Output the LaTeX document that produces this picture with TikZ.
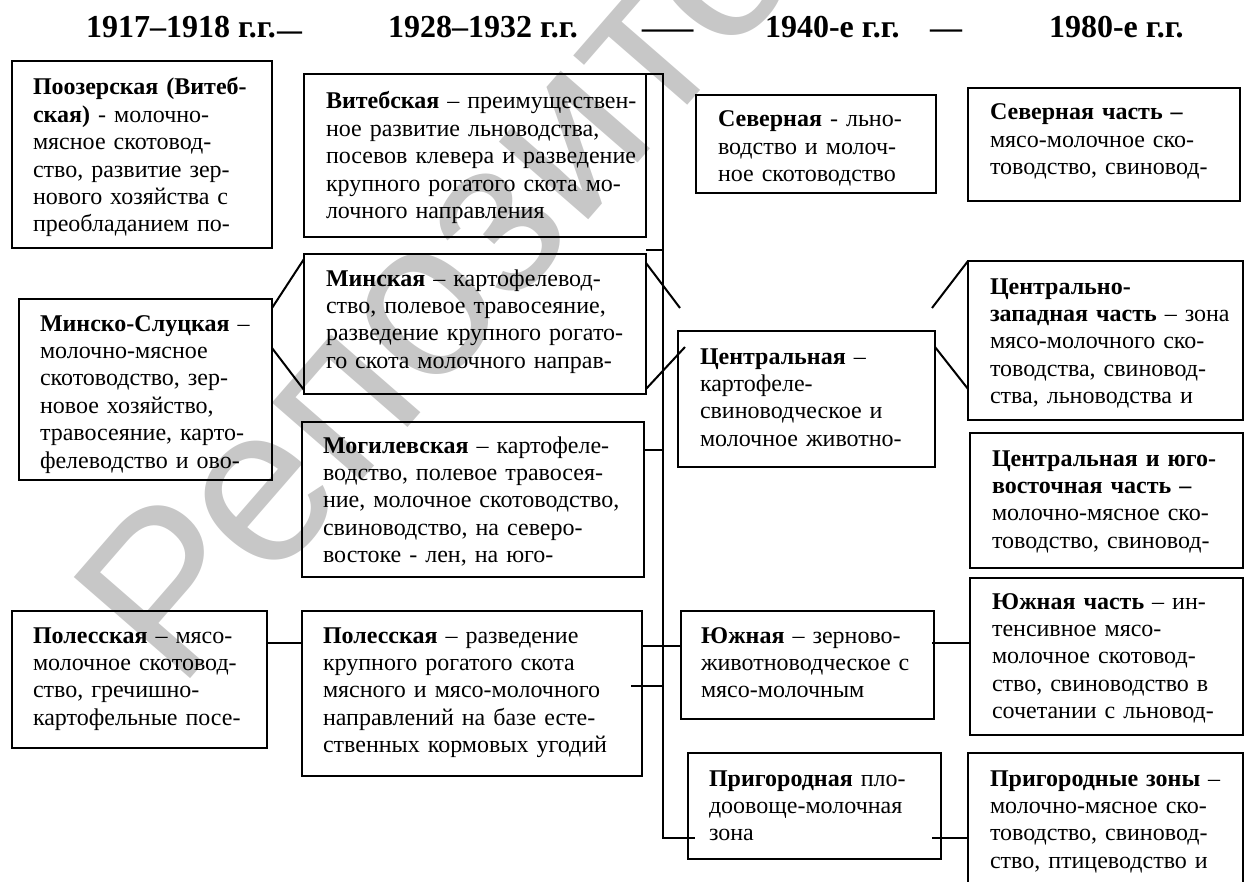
\documentclass[tikz,border=0pt]{standalone}
\usepackage{fontspec}
\setmainfont{Liberation Serif}
\newfontfamily\wmfont{Liberation Sans}
\usepackage{graphicx}
\usetikzlibrary{calc}
\newcommand\zbox[5]{\node[zone, minimum width={(#4-#2)*0.5pt}, minimum height={(#5-#3)*0.5pt}] (#1) at ({(#2+#4)/2},{(#3+#5)/2}) {};}
\begin{document}
\begin{tikzpicture}[x=0.5pt,y=-0.5pt, line width=1pt,
  zone/.style={draw, rectangle, inner sep=0pt, outer sep=0pt},
  txt/.style={anchor=base west, inner sep=0pt, outer sep=0pt, align=left, text width=190pt, font=\fontsize{12}{13.7}\selectfont},
  ttl/.style={anchor=base west, inner sep=0pt, outer sep=0pt, font=\fontsize{16}{18}\selectfont\bfseries},
  wmark/.style={anchor=base west, inner sep=0pt, outer sep=0pt, text=black!22, rotate=49, font=\fontsize{112}{120}\selectfont\wmfont}]
\useasboundingbox (0,0) rectangle (1246,882);

% watermark
\node[wmark] (wm) at (178,692) {Репозиторий};

% titles
\node[ttl] (t1) at (86,38) {1917–1918 г.г.};
\node[ttl] (t1d) at (277,41) {\scalebox{0.78}[1]{—}};
\node[ttl] (t2) at (388,38) {1928–1932 г.г.};
\node[ttl] (t2d) at (642,39) {\scalebox{1.6}[1]{—}};
\node[ttl] (t3) at (765,38) {1940-е г.г.};
\node[ttl] (t3d) at (930,39) {—};
\node[ttl] (t4) at (1049,38) {1980-е г.г.};

% boxes
\zbox{p1}{12}{61}{272}{248}
\zbox{ms}{19}{299}{272}{480}
\zbox{pl1}{12}{611}{267}{748}
\zbox{vb}{304}{74}{646}{237}
\zbox{mn}{304}{254}{646}{394}
\zbox{mg}{302}{422}{644}{577}
\zbox{pl2}{302}{611}{642}{776}
\zbox{sv}{696}{95}{936}{193}
\zbox{cn}{678}{331}{935}{467}
\zbox{yu}{681}{611}{934}{719}
\zbox{pr}{688}{753}{941}{859}
\zbox{svc}{968}{88}{1240}{201}
\zbox{czc}{968}{261}{1243}{420}
\zbox{csc}{970}{433}{1243}{568}
\zbox{ujc}{970}{578}{1243}{735}
\zbox{prz}{968}{753}{1243}{900}

% texts
\node[txt] (p1t) at (33,95) {\textbf{Поозерская (Витеб-}\\\textbf{ская)} - молочно-\\мясное скотовод-\\ство, развитие зер-\\нового хозяйства с\\преобладанием по-};
\node[txt] (mst) at (40,331) {\textbf{Минско-Слуцкая} –\\молочно-мясное\\скотоводство, зер-\\новое хозяйство,\\травосеяние, карто-\\фелеводство и ово-};
\node[txt] (pl1t) at (33,643) {\textbf{Полесская} – мясо-\\молочное скотовод-\\ство, гречишно-\\картофельные посе-};
\node[txt] (vbt) at (326,109) {\textbf{Витебская} – преимуществен-\\ное развитие льноводства,\\посевов клевера и разведение\\крупного рогатого скота мо-\\лочного направления};
\node[txt] (mnt) at (326,286) {\textbf{Минская} – картофелевод-\\ство, полевое травосеяние,\\разведение крупного рогато-\\го скота молочного направ-};
\node[txt] (mgt) at (323,453) {\textbf{Могилевская} – картофеле-\\водство, полевое травосея-\\ние, молочное скотоводство,\\свиноводство, на северо-\\востоке - лен, на юго-};
\node[txt] (pl2t) at (323,643) {\textbf{Полесская} – разведение\\крупного рогатого скота\\мясного и мясо-молочного\\направлений на базе есте-\\ственных кормовых угодий};
\node[txt] (svt) at (718,127) {\textbf{Северная} - льно-\\водство и молоч-\\ное скотоводство};
\node[txt] (cnt) at (700,364) {\textbf{Центральная} –\\картофеле-\\свиноводческое и\\молочное животно-};
\node[txt] (yut) at (701,643) {\textbf{Южная} – зерново-\\животноводческое с\\мясо-молочным};
\node[txt] (prt) at (709,786) {\textbf{Пригородная} пло-\\доовоще-молочная\\зона};
\node[txt] (svct) at (990,120) {\textbf{Северная часть –}\\мясо-молочное ско-\\товодство, свиновод-};
\node[txt] (czct) at (990,294) {\textbf{Центрально-}\\\textbf{западная часть} – зона\\мясо-молочного ско-\\товодства, свиновод-\\ства, льноводства и};
\node[txt] (csct) at (992,466) {\textbf{Центральная и юго-}\\\textbf{восточная часть –}\\молочно-мясное ско-\\товодство, свиновод-};
\node[txt] (ujct) at (992,609) {\textbf{Южная часть} – ин-\\тенсивное мясо-\\молочное скотовод-\\ство, свиноводство в\\сочетании с льновод-};
\node[txt] (przt) at (990,786) {\textbf{Пригородные зоны} –\\молочно-мясное ско-\\товодство, свиновод-\\ство, птицеводство и};

% connector ends
\coordinate (trtop) at (663,74);
\coordinate (trbot) at (663,838);
\coordinate (mnA) at (680,308);
\coordinate (mnB) at (685,347);
\coordinate (cnA) at (932,308);

% trunk and ticks
\draw (vb.north east) -- (trtop) -- (trbot) -- ($(pr.west |- trbot)+(7,0)$);
\draw (vb.east |- 0,250) -- (trtop |- 0,250);
\draw (mg.east |- 0,450) -- (trtop |- 0,450);
\draw (pl2.east |- 0,646) -- (yu.west |- 0,646);
\draw ($(pl2.east |- 0,686)+(-11,0)$) -- (trtop |- 0,686);

% horizontal links
\draw (pl1.east |- 0,643) -- (pl2.west |- 0,643);
\draw ($(yu.east |- 0,643)+(-2,0)$) -- (ujc.west |- 0,643);
\draw ($(pr.east |- trbot)+(-9,0)$) -- (prz.west |- trbot);

% diagonal links
\draw (ms.east |- 0,308) -- (mn.west |- 0,259);
\draw (ms.east |- 0,348) -- (mn.west |- 0,390);
\draw (mn.east |- 0,263) -- (mnA);
\draw (mn.east |- 0,389) -- (mnB);
\draw (cnA) -- (czc.north west);
\draw (cn.east |- 0,347) -- (czc.west |- 0,389);
\end{tikzpicture}
\end{document}
